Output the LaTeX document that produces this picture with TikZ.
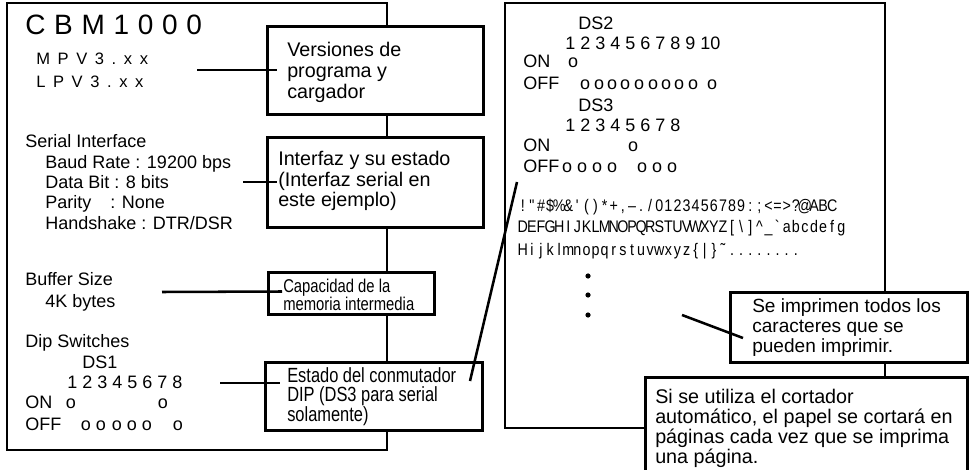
\documentclass[tikz,border=0pt]{standalone}
\usepackage{fontspec}
\setmainfont{Liberation Sans}
\newfontfamily\rknarrow[FakeStretch=0.85]{Liberation Sans}
\newfontfamily\rknarrowb[FakeStretch=0.8]{Liberation Sans}
\usetikzlibrary{calc}
\newdimen\pxu \pxu=0.75pt
\newcommand\rkbody{\fontsize{13.5}{15}\selectfont}
\newcommand\rkbox{\fontsize{14.8}{16}\selectfont}
\newcommand\rkboxs{\fontsize{14.3}{16}\selectfont}
\newcommand\rkcap{\rknarrowb\fontsize{13.9}{14}\selectfont}
\newcommand\rkest{\rknarrowb\fontsize{15.4}{16}\selectfont}
\newcommand\rkchars{\rknarrow\fontsize{12.6}{13}\selectfont}
\newcommand\rkcbm{\fontsize{21}{24}\selectfont}
\newcommand\rkmpv{\fontsize{12.4}{14}\selectfont}
\newcommand\rkgap{\hspace{8.7\pxu}}
\newcommand\rkgapm{\hspace{7.6\pxu}}
\newcommand\cellrow[1]{\rkcellloop#1\relax}
\def\rkcellloop#1{\ifx#1\relax\else\makebox[9.1\pxu][c]{#1}\expandafter\rkcellloop\fi}
\begin{document}
\begin{tikzpicture}[x=0.75pt,y=-0.75pt,
  page/.style={line width=1pt},
  callout/.style={draw, line width=2.25pt, fill=white, inner sep=0pt, outer sep=0pt, anchor=north west},
  lead/.style={line width=1.9pt},
  txt/.style={anchor=base west, inner sep=0pt, font=\rkbody},
  btxt/.style={anchor=base west, inner sep=0pt, font=\rkbox},
  ctxt/.style={anchor=base west, inner sep=0pt, font=\rkchars}]
\useasboundingbox (0,0) rectangle (970,470);
% pages
\draw[page] (7,3) rectangle (387,450);
\draw[page] (505,3) rectangle (885,428);
% left page text
\node[txt, font=\rkcbm] (cbm) at (25,35) {C\rkgap B\rkgap M\rkgap 1\rkgap 0\rkgap 0\rkgap 0};
\node[txt, font=\rkmpv] (mpv) at (36,65) {M\rkgapm P\rkgapm V\rkgapm 3\rkgapm .\rkgapm x\rkgapm x};
\node[txt, font=\rkmpv] (lpv) at (36,88) {L\rkgapm P\rkgapm V\rkgapm 3\rkgapm .\rkgapm x\rkgapm x};
\node[txt] (ser) at (25,148) {Serial Interface};
\node[txt] (baud) at (45,169) {Baud Rate : 19200 bps};
\node[txt] (data) at (45,189) {Data Bit : 8 bits};
\node[txt] (par) at (45,209) {Parity\hspace{14\pxu} : None};
\node[txt] (hand) at (45,230) {Handshake : DTR/DSR};
\node[txt] (buf) at (25,285) {Buffer Size};
\node[txt] (kb) at (45,307) {4K bytes};
\node[txt] (dip) at (25,347) {Dip Switches};
\node[txt] (dsa) at (82,368) {DS1};
\node[txt] (diga) at (67,388) {1 2 3 4 5 6 7 8};
\node[txt] (ona) at (25,408) {ON};
\node[txt] (offa) at (25,430) {OFF};
\foreach \x [count=\i] in {71,163} \node[txt, anchor=base] (oa\i) at (\x,408) {o};
\foreach \x [count=\i] in {86,101,117,132,147,178} \node[txt, anchor=base] (fa\i) at (\x,430) {o};
% right page text
\node[txt] (dsb) at (578,30) {DS2};
\node[txt] (digb) at (565,50) {1 2 3 4 5 6 7 8 9 10};
\node[txt] (onb) at (523,68) {ON};
\node[txt] (offb) at (523,90) {OFF};
\node[txt, anchor=base] (ob1) at (573,68) {o};
\foreach \x [count=\i] in {585,599,612,625,639,653,666,679,693,712} \node[txt, anchor=base] (fb\i) at (\x,90) {o};
\node[txt] (dsc) at (578,112) {DS3};
\node[txt] (digc) at (565,132) {1 2 3 4 5 6 7 8};
\node[txt] (onc) at (523,152) {ON};
\node[txt] (offc) at (523,173) {OFF};
\node[txt, anchor=base] (oc1) at (633,152) {o};
\foreach \x [count=\i] in {567,582,597,612,642,657,672} \node[txt, anchor=base] (fc\i) at (\x,173) {o};
\node[ctxt] (chA) at (518,212) {\cellrow{!"\#\$\%\&\textquotesingle()*+,\textendash./0123456789:;<=>?@ABC}};
\node[ctxt] (chB) at (518,233) {\cellrow{DEFGHIJKLMNOPQRSTUVWXYZ[\textbackslash]\textasciicircum\textunderscore\textasciigrave abcdefg}};
\node[ctxt] (chC) at (518,255) {\cellrow{Hijklmnopqrstuvwxyz\{|\}˜........}};
\fill (588,276) circle[radius=2.6];
\fill (588,295) circle[radius=2.6];
\fill (588,315) circle[radius=2.6];
% callout boxes
\node[callout, minimum width=216\pxu, minimum height=88\pxu] (box1) at (267,27) {};
\node[callout, minimum width=216\pxu, minimum height=90\pxu] (box2) at (267,138) {};
\node[callout, minimum width=166\pxu, minimum height=42\pxu] (box3) at (268,272) {};
\node[callout, minimum width=217\pxu, minimum height=68\pxu] (box4) at (265,362) {};
\node[callout, minimum width=237\pxu, minimum height=70\pxu] (box5) at (730,292) {};
\node[callout, minimum width=322\pxu, minimum height=100\pxu] (box6) at (645,377) {};
% box texts
\node[btxt] (b1a) at (287,57) {Versiones de};
\node[btxt] (b1b) at (287,78) {programa y};
\node[btxt] (b1c) at (287,99) {cargador};
\node[btxt] (b2a) at (278,166) {Interfaz y su estado};
\node[btxt] (b2b) at (278,187) {(Interfaz serial en};
\node[btxt] (b2c) at (278,207) {este ejemplo)};
\node[btxt, font=\rkcap] (b3a) at (283,292) {Capacidad de la};
\node[btxt, font=\rkcap] (b3b) at (283,310) {memoria intermedia};
\node[btxt, font=\rkest] (b4a) at (287,382) {Estado del conmutador};
\node[btxt, font=\rkest] (b4b) at (287,401) {DIP (DS3 para serial};
\node[btxt, font=\rkest] (b4c) at (287,421) {solamente)};
\node[btxt, font=\rkboxs] (b5a) at (752,312) {Se imprimen todos los};
\node[btxt, font=\rkboxs] (b5b) at (752,332) {caracteres que se};
\node[btxt, font=\rkboxs] (b5c) at (752,352) {pueden imprimir.};
\node[btxt] (b6a) at (655,403) {Si se utiliza el cortador};
\node[btxt] (b6b) at (655,423) {automático, el papel se cortará en};
\node[btxt] (b6c) at (655,443) {páginas cada vez que se imprima};
\node[btxt] (b6d) at (655,463) {una página.};
% leaders
\coordinate (l1) at (197,70);
\coordinate (l2) at (243,182);
\coordinate (l3) at (162,292);
\coordinate (l4) at (220,383);
\coordinate (l5) at (682,315);
\coordinate (l6) at (517,182);
\draw[lead] (l1) -- ($(box1.west)+(10,-1)$);
\draw[lead] (l2) -- ($(box2.west)+(10,-1)$);
\draw[lead] (l3) -- ($(box3.west)+(14,-1.5)$);
\draw[lead] (l4) -- ($(box4.west)+(15,-13)$);
\draw[lead] (l5) -- ($(box5.west)+(13,11)$);
\draw[lead] ($(box4.north east)+(-12,19)$) -- (l6);
\end{tikzpicture}
\end{document}
